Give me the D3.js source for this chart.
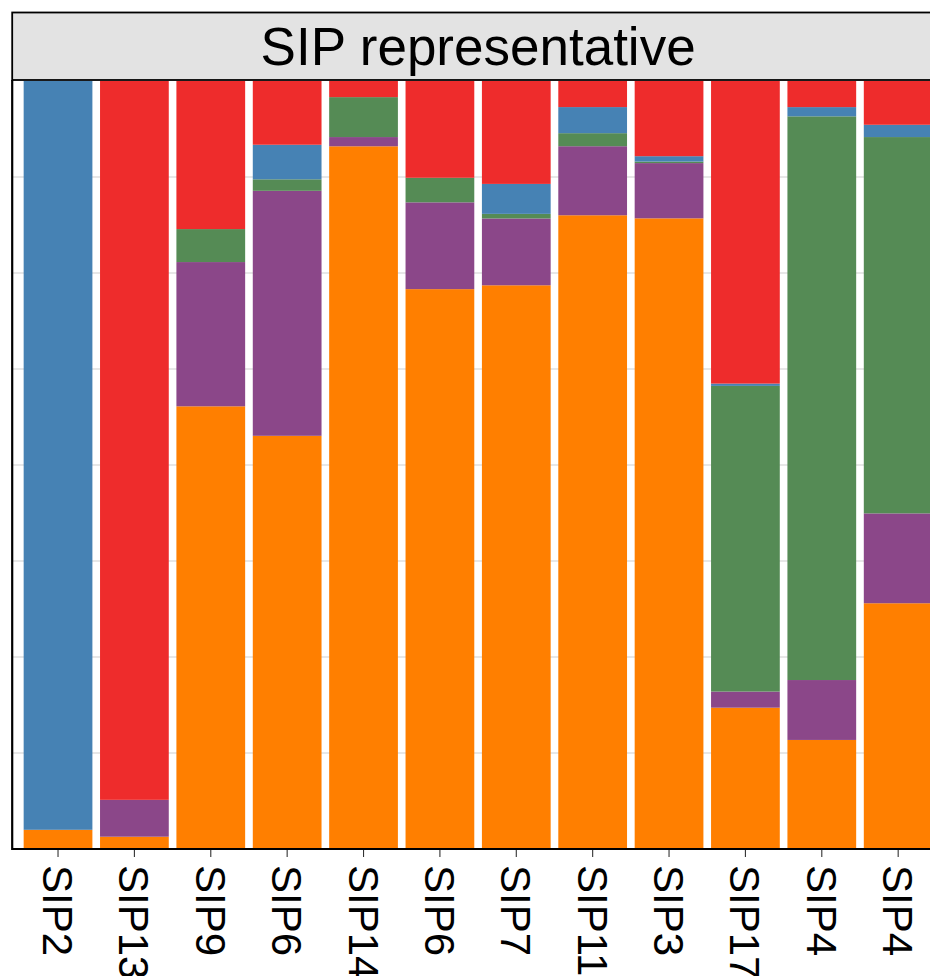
<!DOCTYPE html>
<html>
<head>
<meta charset="utf-8">
<script src="https://cdn.jsdelivr.net/npm/d3@7"></script>
<style>
  body { margin: 0; background: #fff; }
  svg { display: block; font-family: "Liberation Sans", Arial, Helvetica, sans-serif; }
</style>
</head>
<body>
<div id="chart"></div>
<script>
// sample labels (two pairs of bars share a label)
const samples = ["SIP2", "SIP13", "SIP9", "SIP6", "SIP14", "SIP6", "SIP7", "SIP11", "SIP3", "SIP17", "SIP4", "SIP4"];
const groups = ["Group 1", "Group 2", "Group 3", "Group 4", "Group 5"];
const groupColors = ["#ff7f00", "#8b4789", "#558b55", "#4682b4", "#ee2c2c"];

// relative abundance per group, one value per sample (stacked bottom to top)
const group1 = [0.025, 0.016, 0.577, 0.538, 0.915, 0.729, 0.734, 0.826, 0.822, 0.184, 0.142, 0.320];
const group2 = [0.000, 0.048, 0.188, 0.319, 0.012, 0.113, 0.087, 0.090, 0.072, 0.021, 0.078, 0.117];
const group3 = [0.000, 0.000, 0.043, 0.015, 0.052, 0.032, 0.006, 0.017, 0.002, 0.398, 0.734, 0.490];
const group4 = [0.975, 0.000, 0.000, 0.045, 0.000, 0.000, 0.039, 0.034, 0.007, 0.003, 0.012, 0.016];
const group5 = [0.000, 0.936, 0.193, 0.083, 0.021, 0.126, 0.134, 0.034, 0.098, 0.394, 0.034, 0.057];
const gridBreaks = [0.125, 0.25, 0.375, 0.5, 0.625, 0.75, 0.875];

const stripTitle = "SIP representative";

const W = 930, H = 976;
const panel = { left: 12.2, right: 944, top: 81, bottom: 849 };

const seriesValues = [group1, group2, group3, group4, group5];
const table = samples.map((s, i) => {
    const row = { id: i, label: s };
    groups.forEach((g, k) => { row[g] = seriesValues[k][i]; });
    return row;
});

const svg = d3.select("#chart")
    .append("svg")
    .attr("width", W)
    .attr("height", H)
    .attr("viewBox", `0 0 ${W} ${H}`);

const x = d3.scaleBand()
    .domain(table.map(d => d.id))
    .range([panel.left, panel.right])
    .paddingInner(0.1)
    .paddingOuter(0.15);

const y = d3.scaleLinear()
    .domain([0, 1])
    .range([panel.bottom, panel.top]);

const color = d3.scaleOrdinal().domain(groups).range(groupColors);

// grid
svg.append("g")
    .selectAll("line")
    .data(gridBreaks)
    .join("line")
    .attr("x1", panel.left)
    .attr("x2", panel.right)
    .attr("y1", d => y(d))
    .attr("y2", d => y(d))
    .attr("stroke", "#d0d0d0")
    .attr("stroke-width", 1.2);

// stacked bars
const stacked = d3.stack()
    .keys(groups)
    .offset(d3.stackOffsetExpand)(table);

svg.append("g")
    .selectAll("g")
    .data(stacked)
    .join("g")
    .attr("fill", d => color(d.key))
    .selectAll("rect")
    .data(d => d)
    .join("rect")
    .attr("x", d => x(d.data.id))
    .attr("width", x.bandwidth())
    .attr("y", d => y(d[1]))
    .attr("height", d => Math.max(0, y(d[0]) - y(d[1])));

// x axis
const xAxis = svg.append("g")
    .attr("transform", `translate(0,${panel.bottom})`)
    .call(d3.axisBottom(x)
        .tickSize(8)
        .tickSizeOuter(0)
        .tickFormat(i => samples[i]));

xAxis.select(".domain").remove();
xAxis.selectAll(".tick line")
    .attr("stroke", "#333")
    .attr("stroke-width", 1.1);
xAxis.selectAll(".tick text")
    .attr("fill", "#000")
    .style("font-size", "42px")
    .attr("text-anchor", "start")
    .attr("dy", null)
    .attr("y", 0)
    .attr("transform", "translate(-15,16) rotate(90)");

// axis lines
svg.append("line")
    .attr("x1", panel.left).attr("x2", panel.right)
    .attr("y1", panel.bottom).attr("y2", panel.bottom)
    .attr("stroke", "#000").attr("stroke-width", 2.2);
svg.append("line")
    .attr("x1", panel.left).attr("x2", panel.left)
    .attr("y1", panel.top - 1).attr("y2", panel.bottom + 1)
    .attr("stroke", "#000").attr("stroke-width", 2.2);

// facet strip
svg.append("rect")
    .attr("x", panel.left)
    .attr("y", 12.5)
    .attr("width", panel.right - panel.left + 10)
    .attr("height", 67.5)
    .attr("fill", "#e3e3e3")
    .attr("stroke", "#000")
    .attr("stroke-width", 1.8);

svg.append("text")
    .attr("x", (panel.left + panel.right) / 2)
    .attr("y", 65)
    .attr("text-anchor", "middle")
    .style("font-size", "53px")
    .attr("fill", "#000")
    .text(stripTitle);
</script>
</body>
</html>
